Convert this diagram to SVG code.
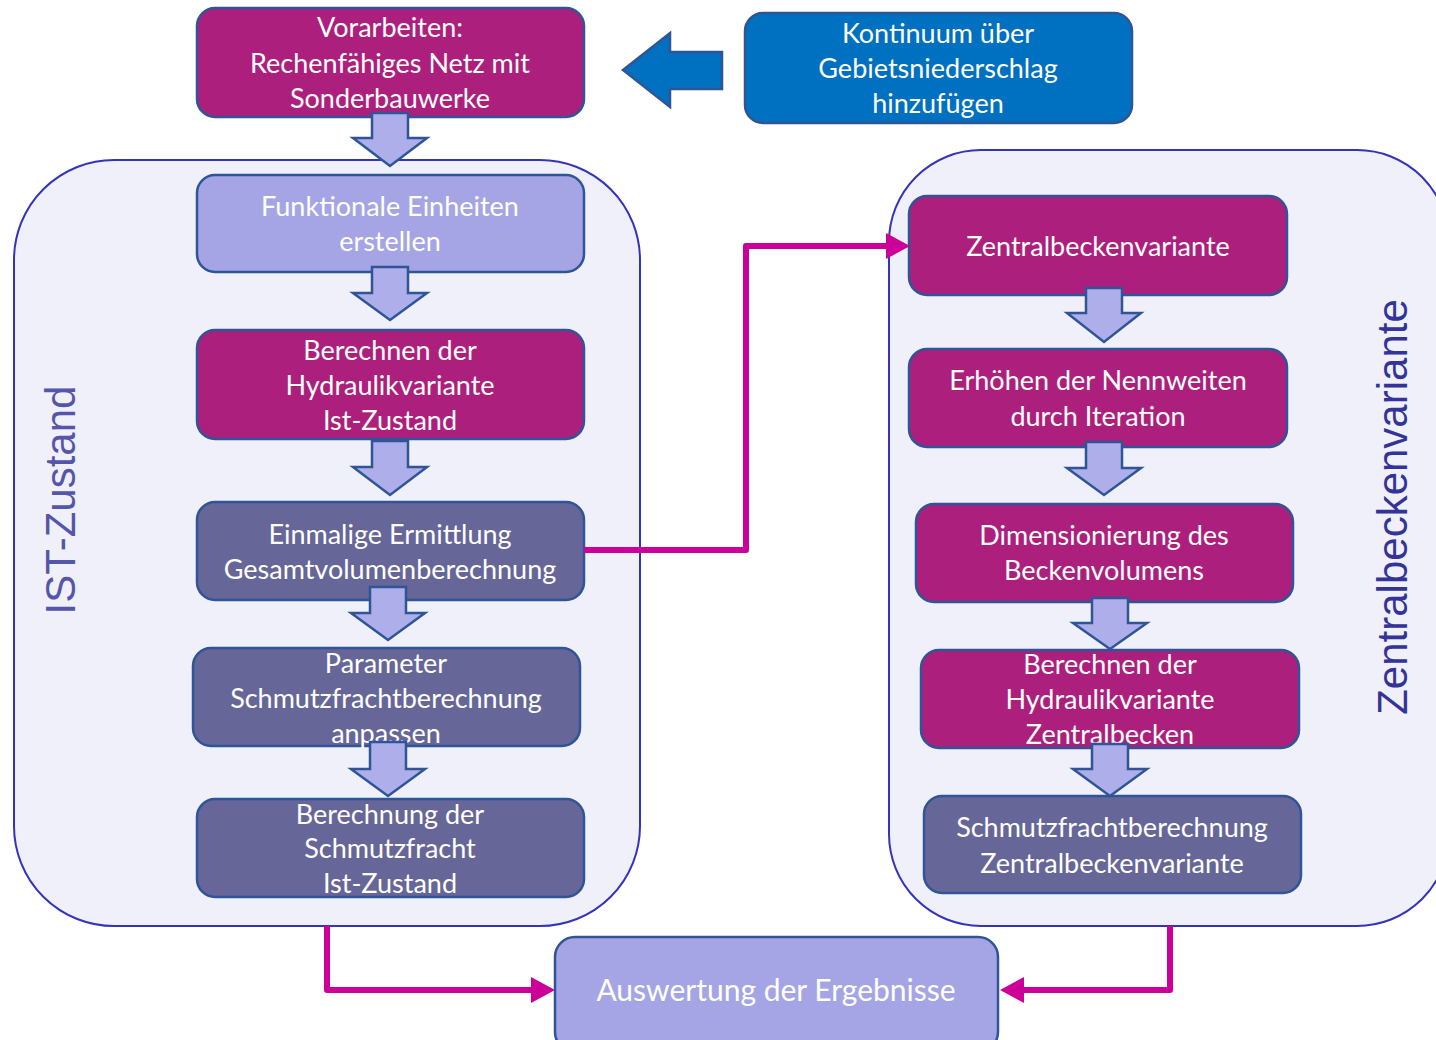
<svg xmlns="http://www.w3.org/2000/svg" width="1436" height="1040" viewBox="0 0 1436 1040">
<style>
.cont{fill:#F0F0FA;stroke:#3333BB;stroke-width:2}
.n{stroke:#2F5597;stroke-width:2.5}
.mag{fill:#AD1F7C}
.dark{fill:#666699}
.lav{fill:#A5A5E6}
.blue{fill:#0070C0}
.t{font-family:Lato,"Open Sans",sans-serif;font-size:27px;fill:#FFFFFF;text-anchor:middle}
.big{font-family:"Liberation Sans",Arial,sans-serif;font-size:42px;text-anchor:middle}
.ba{fill:#AEAEEA;stroke:#2F5597;stroke-width:2.5;stroke-linejoin:miter}
.con{fill:none;stroke:#CC0099;stroke-width:6;stroke-linejoin:round}
</style>
<defs>
<marker id="ah" markerUnits="userSpaceOnUse" markerWidth="26" markerHeight="28" refX="0" refY="13" orient="auto" viewBox="0 0 26 28">
<path d="M0,0 L24,13 L0,26 Z" fill="#CC0099"/>
</marker>
</defs>
<g id="containers">
<g id="ist-container"><rect class="cont" x="14" y="160" width="626" height="766" rx="100"/>
<text class="big" fill="#5555AA" transform="translate(75,500) rotate(-90)">IST-Zustand</text></g>
<g id="zb-container"><rect class="cont" x="889" y="150" width="560" height="776" rx="92"/>
<text class="big" fill="#333399" transform="translate(1407,507) rotate(-90)">Zentralbeckenvariante</text></g>
</g>
<g id="n-vorarbeiten"><rect class="n mag" x="197" y="8" width="387" height="109" rx="18"/>
<text class="t" x="390" y="37">Vorarbeiten:</text><text class="t" x="390" y="73">Rechenfähiges Netz mit</text><text class="t" x="390" y="108">Sonderbauwerke</text></g>
<g id="n-kontinuum"><rect class="n blue" x="745" y="13" width="387" height="110" rx="18"/>
<text class="t" x="938" y="43">Kontinuum über</text><text class="t" x="938" y="78">Gebietsniederschlag</text><text class="t" x="938" y="113">hinzufügen</text></g>
<g id="n-funktionale"><rect class="n lav" x="197" y="175" width="387" height="97" rx="18"/>
<text class="t" x="390" y="216">Funktionale Einheiten</text><text class="t" x="390" y="251">erstellen</text></g>
<g id="n-hydraulik-ist"><rect class="n mag" x="197" y="330" width="387" height="109" rx="18"/>
<text class="t" x="390" y="360">Berechnen der</text><text class="t" x="390" y="395">Hydraulikvariante</text><text class="t" x="390" y="430">Ist-Zustand</text></g>
<g id="n-einmalige"><rect class="n dark" x="197" y="502" width="387" height="98" rx="18"/>
<text class="t" x="390" y="544">Einmalige Ermittlung</text><text class="t" x="390" y="579">Gesamtvolumenberechnung</text></g>
<g id="n-parameter"><rect class="n dark" x="193" y="648" width="387" height="98" rx="18"/>
<text class="t" x="386" y="673">Parameter</text><text class="t" x="386" y="708">Schmutzfrachtberechnung</text><text class="t" x="386" y="743">anpassen</text></g>
<g id="n-schmutz-ist"><rect class="n dark" x="197" y="799" width="387" height="98" rx="18"/>
<text class="t" x="390" y="824">Berechnung der</text><text class="t" x="390" y="858">Schmutzfracht</text><text class="t" x="390" y="893">Ist-Zustand</text></g>
<g id="n-zentral"><rect class="n mag" x="909" y="196" width="378" height="99" rx="18"/>
<text class="t" x="1098" y="256">Zentralbeckenvariante</text></g>
<g id="n-nennweiten"><rect class="n mag" x="909" y="349" width="378" height="98" rx="18"/>
<text class="t" x="1098" y="390">Erhöhen der Nennweiten</text><text class="t" x="1098" y="426">durch Iteration</text></g>
<g id="n-dimension"><rect class="n mag" x="916" y="504" width="377" height="98" rx="18"/>
<text class="t" x="1104" y="545">Dimensionierung des</text><text class="t" x="1104" y="580">Beckenvolumens</text></g>
<g id="n-hydraulik-zb"><rect class="n mag" x="921" y="650" width="378" height="98" rx="18"/>
<text class="t" x="1110" y="674">Berechnen der</text><text class="t" x="1110" y="709">Hydraulikvariante</text><text class="t" x="1110" y="744">Zentralbecken</text></g>
<g id="n-schmutz-zb"><rect class="n dark" x="924" y="796" width="377" height="97" rx="18"/>
<text class="t" x="1112" y="837">Schmutzfrachtberechnung</text><text class="t" x="1112" y="873">Zentralbeckenvariante</text></g>
<g id="n-auswertung"><rect class="n lav" x="555" y="937" width="443" height="115" rx="20"/>
<text class="t" x="776" y="1001" style="font-size:30px">Auswertung der Ergebnisse</text></g>
<g id="connectors">
<path class="ba" d="M372,113 H408 V138 H427 L390,166 L353,138 H372 Z"/>
<path class="ba" d="M372,267 H408 V293 H427 L390,320 L353,293 H372 Z"/>
<path class="ba" d="M372,441 H408 V467 H427 L390,495 L353,467 H372 Z"/>
<path class="ba" d="M370,587 H406 V613 H425 L388,640 L351,613 H370 Z"/>
<path class="ba" d="M370,742 H406 V769 H425 L388,796 L351,769 H370 Z"/>
<path class="ba" d="M1086,288 H1122 V313 H1141 L1104,342 L1067,313 H1086 Z"/>
<path class="ba" d="M1086,442 H1122 V468 H1141 L1104,495 L1067,468 H1086 Z"/>
<path class="ba" d="M1092,598 H1128 V623 H1147 L1110,649 L1073,623 H1092 Z"/>
<path class="ba" d="M1092,744 H1128 V769 H1147 L1110,796 L1073,769 H1092 Z"/>
<path d="M722,52 V89 H670 V107 L623,70 L670,33 V52 Z" fill="#0070C0" stroke="#2F5597" stroke-width="2.5"/>
<path class="con" d="M584,550 H746 V246 H886" marker-end="url(#ah)"/>
<path class="con" d="M327,926 V990 H531" marker-end="url(#ah)"/>
<path class="con" d="M1170,926 V990 H1024" marker-end="url(#ah)"/>
</g>
</svg>
